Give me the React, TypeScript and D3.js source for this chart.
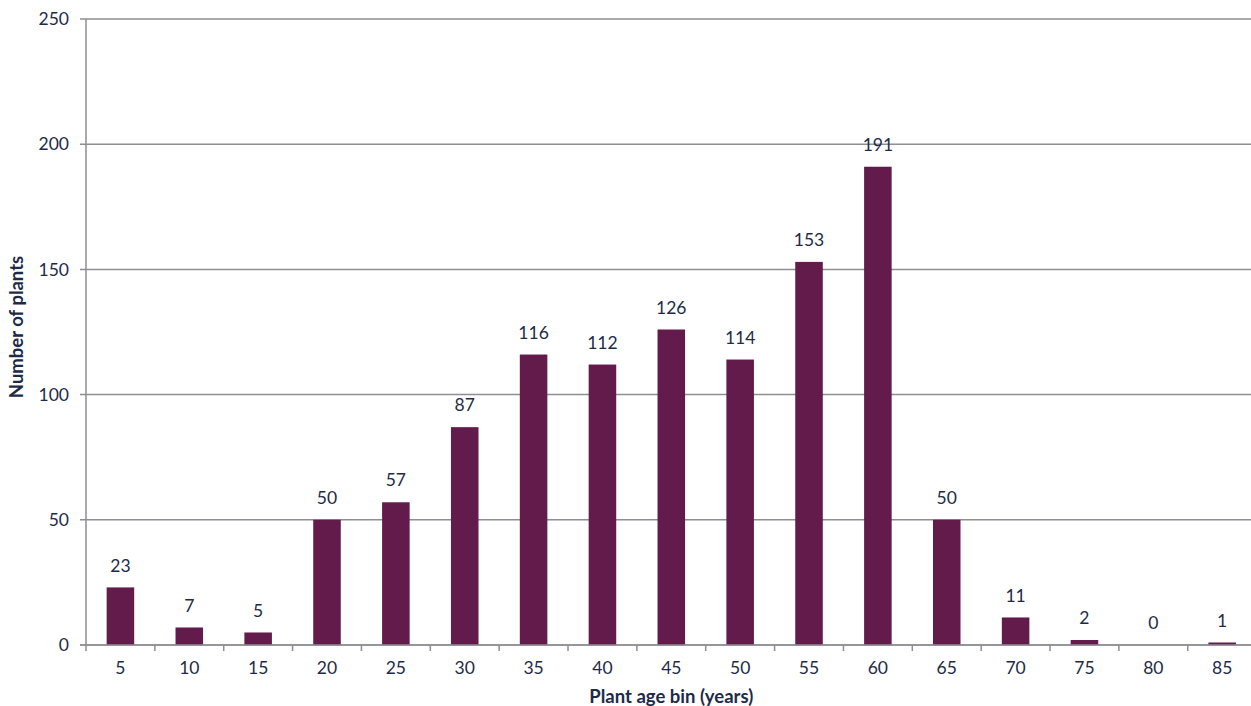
import React from 'react'
import * as d3 from 'd3'

const ageBins = ['5', '10', '15', '20', '25', '30', '35', '40', '45', '50', '55', '60', '65', '70', '75', '80', '85']
const plantCounts = [23, 7, 5, 50, 57, 87, 116, 112, 126, 114, 153, 191, 50, 11, 2, 0, 1]
const yTicks = [0, 50, 100, 150, 200, 250]

const W = 1251
const H = 706
// the plot runs a little past the right edge of the picture
const margin = { top: 19, right: -5.6, bottom: 61, left: 86 }
const barColor = '#621b4a'
const gridColor = '#8e8e93'
const textColor = '#1e2b48'
const font = 'Lato, "Open Sans", sans-serif'

const App = () => {
  const x = d3
    .scaleBand<string>()
    .domain(ageBins)
    .range([margin.left, W - margin.right])
    .paddingInner(0.6)
    .paddingOuter(0.3)
  const y = d3
    .scaleLinear()
    .domain([0, 250])
    .range([H - margin.bottom, margin.top])

  const step = x.step()
  const y0 = y(0)

  return (
    <svg width={W} height={H} style={{ position: 'absolute', left: 0, top: 0, background: '#fff' }}>
      {/* gridlines + y ticks */}
      {yTicks.map((t) => (
        <g key={t}>
          <line x1={margin.left - 6} x2={W} y1={y(t)} y2={y(t)} stroke={gridColor} strokeWidth={1.5} />
          <text
            x={margin.left - 17}
            y={y(t)}
            dy="0.35em"
            textAnchor="end"
            fontFamily={font}
            fontSize={17.5}
            fill={textColor}
          >
            {t}
          </text>
        </g>
      ))}
      {/* y axis line */}
      <line x1={margin.left} x2={margin.left} y1={margin.top} y2={y0 + 1} stroke={gridColor} strokeWidth={1.5} />

      {/* bars */}
      {ageBins.map((b, i) => {
        const v = plantCounts[i]
        const cx = x(b)! + x.bandwidth() / 2
        return (
          <g key={b}>
            <rect x={x(b)} y={y(v)} width={x.bandwidth()} height={y0 - y(v)} fill={barColor} />
            <text
              x={cx}
              y={y(v) - 22}
              dy="0.35em"
              textAnchor="middle"
              fontFamily={font}
              fontSize={17.5}
              fill={textColor}
            >
              {v}
            </text>
            <text
              x={cx}
              y={y0 + 23}
              dy="0.35em"
              textAnchor="middle"
              fontFamily={font}
              fontSize={17.5}
              fill={textColor}
            >
              {b}
            </text>
          </g>
        )
      })}

      {/* x axis line + ticks at band edges */}
      <line x1={margin.left - 6} x2={W} y1={y0} y2={y0} stroke={gridColor} strokeWidth={1.5} />
      {d3.range(ageBins.length + 1).map((i) => (
        <line
          key={i}
          x1={margin.left + i * step}
          x2={margin.left + i * step}
          y1={y0}
          y2={y0 + 6}
          stroke={gridColor}
          strokeWidth={1.5}
        />
      ))}

      {/* axis titles */}
      <text
        x={(margin.left + W - margin.right) / 2}
        y={697}
        dy="0.35em"
        textAnchor="middle"
        fontFamily={font}
        fontSize={18.5}
        fontWeight="bold"
        fill={textColor}
      >
        Plant age bin (years)
      </text>
      <text
        transform={`translate(17,327) rotate(-90)`}
        dy="0.35em"
        textAnchor="middle"
        fontFamily={font}
        fontSize={18.5}
        fontWeight="bold"
        fill={textColor}
      >
        Number of plants
      </text>
    </svg>
  )
}

export default App
